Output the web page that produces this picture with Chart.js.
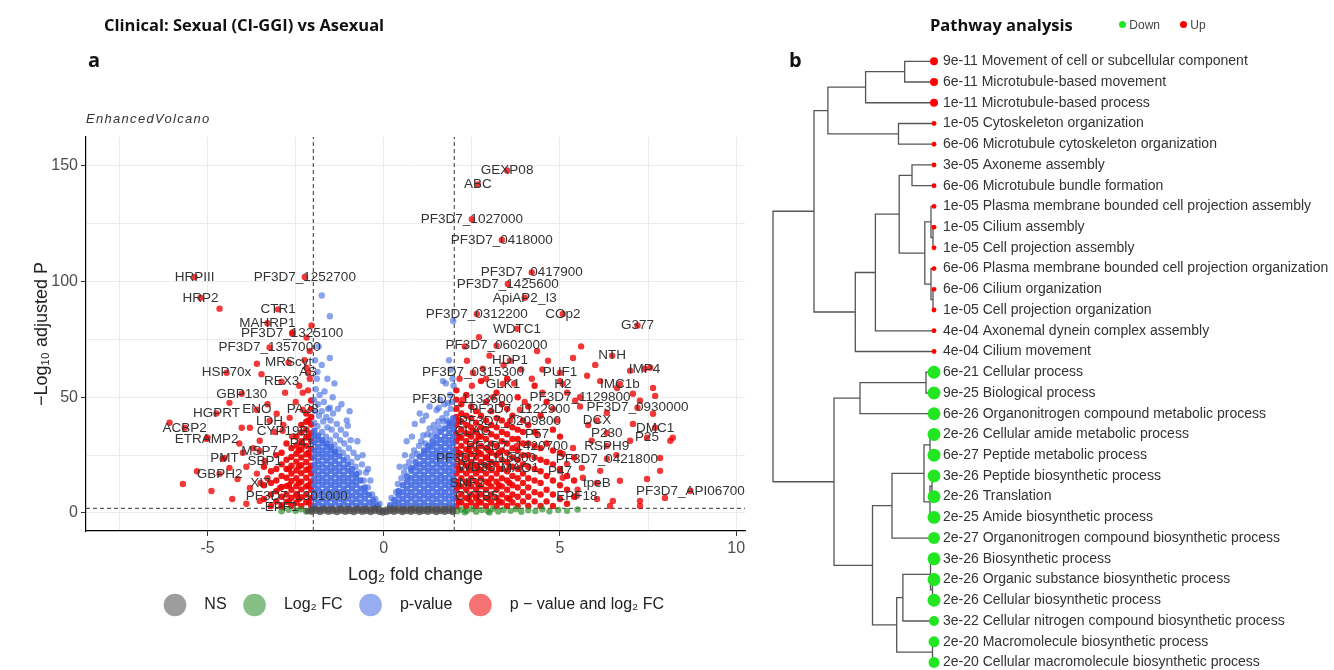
<!DOCTYPE html>
<html>
<head>
<meta charset="utf-8">
<script src="https://cdn.jsdelivr.net/npm/chart.js@4.4.1/dist/chart.umd.min.js"></script>
<style>
  html, body { margin: 0; padding: 0; background: #fff; }
  body { width: 1334px; height: 670px; position: relative; overflow: hidden; }
  canvas { position: absolute; top: 0; }
  #volcano { left: 0; }
  #pathways { left: 760px; }
  .h { position: absolute; line-height: 1; transform: translateY(-50%); white-space: nowrap;
       font-family: "Open Sans", sans-serif; font-weight: 700; color: #111; }
  #t1 { left: 104px; top: 25px; font-size: 16.5px; }
  #pa { left: 88px; top: 60px; font-size: 20px; }
  #pb { left: 789px; top: 60px; font-size: 20px; }
  #t2 { left: 930px; top: 25px; font-size: 16.5px; }
  #sub { left: 86px; top: 118px; font-family: "Liberation Sans", Arial, sans-serif; font-style: italic;
         font-weight: 400; font-size: 13px; letter-spacing: 1.3px; color: #333; }
  #key { left: 1119px; top: 25px; font-family: "Liberation Sans", Arial, sans-serif; font-weight: 400;
         font-size: 12px; color: #444; }
  #key i { display: inline-block; width: 7px; height: 7px; border-radius: 50%; vertical-align: middle; margin-top: -2px; }
</style>
</head>
<body>
<canvas id="volcano" width="800" height="670"></canvas>
<canvas id="pathways" width="574" height="670"></canvas>
<div class="h" id="t1">Clinical: Sexual (CI-GGI) vs Asexual</div>
<div class="h" id="pa">a</div>
<div class="h" id="sub">EnhancedVolcano</div>
<div class="h" id="pb">b</div>
<div class="h" id="t2">Pathway analysis</div>
<div class="h" id="key"><i style="background:#22e622"></i> Down&nbsp;&nbsp;&nbsp;&nbsp;&nbsp; <i style="background:#ff0000"></i> Up</div>
<script>
// ---------- panel a: volcano ----------
const fcCutoff = 2;
const pCutoff = 2;          // -log10 adjusted P
const xRange = [-8.45, 10.25];
const yRange = [-7.8, 162.5];

// not significant, [log2FC, [-log10 P ...]]
const notSig = [
  [-2.16, [0.8]], [-2.05, [0.5, 1.6]], [-1.93, [0.9, 1.8]], [-1.81, [0.4, 1.5]], [-1.69, [1.0, 1.9]],
  [-1.57, [0.5, 1.6]], [-1.45, [0.8, 1.8]], [-1.33, [0.4, 1.5]], [-1.21, [0.9, 1.9]], [-1.09, [0.5, 1.6]],
  [-0.97, [0.8, 1.8]], [-0.85, [0.4, 1.5]], [-0.73, [0.9, 1.9]], [-0.61, [0.5, 1.6]], [-0.49, [0.8, 1.8]],
  [-0.37, [0.4, 1.5]], [-0.25, [0.9, 1.9]], [-0.13, [0.5, 1.6]], [-0.03, [0.2, 0.9]], [0.07, [0.4, 1.4]],
  [0.17, [0.8, 1.8]], [0.29, [0.5, 1.6]], [0.41, [0.9, 1.9]], [0.53, [0.4, 1.5]], [0.65, [0.8, 1.8]],
  [0.77, [0.5, 1.6]], [0.89, [0.9, 1.9]], [1.01, [0.4, 1.5]], [1.13, [0.8, 1.8]], [1.25, [0.5, 1.6]],
  [1.37, [0.9, 1.9]], [1.49, [0.4, 1.5]], [1.61, [0.8, 1.8]], [1.73, [0.5, 1.6]], [1.85, [0.9, 1.9]],
  [1.96, [0.4, 1.5]]
];

// large fold change only
const log2fcOnly = [
  [2.08, 0.7], [2.2, 1.5], [2.35, 0.9], [2.5, 1.7], [2.62, 0.5], [2.78, 1.3], [2.95, 0.8], [3.1, 1.8],
  [3.25, 0.6], [3.4, 1.4], [3.6, 0.9], [3.75, 1.7], [3.9, 0.5], [4.1, 1.2], [4.3, 0.8], [4.5, 1.6],
  [4.7, 0.7], [4.95, 1.3], [5.2, 0.9], [5.5, 1.5], [2.3, 0.3], [3.0, 0.2],
  [-2.08, 1.2], [-2.2, 0.6], [-2.35, 1.6], [-2.5, 0.9], [-2.7, 1.4], [-2.9, 0.7]
];

// significant p only: dense cores of the two clouds
const pValueLeft = [
  [-1.97, [3, 6.2, 9, 12.1, 15, 18.2, 21, 24.1, 27, 30.2, 33, 35.5]],
  [-1.86, [4.5, 7.6, 10.5, 13.6, 16.5, 19.6, 22.5, 25.6, 28.5, 31.6, 33.5]],
  [-1.74, [3, 6.1, 9, 12.2, 15, 18.1, 21, 24.2, 27, 30.1, 31.5]],
  [-1.62, [4.5, 7.6, 10.5, 13.5, 16.6, 19.5, 22.6, 25.5, 28.4, 30]],
  [-1.50, [3, 6.2, 9, 12.1, 15, 18.2, 21, 24.1, 27, 28.6]],
  [-1.38, [4.5, 7.5, 10.6, 13.5, 16.6, 19.5, 22.5, 25.4, 26.6]],
  [-1.26, [3, 6.1, 9, 12.2, 15, 18.1, 21, 24.5]],
  [-1.14, [4.5, 7.6, 10.5, 13.6, 16.5, 19.6, 22.8]],
  [-1.02, [3, 6.2, 9, 12.1, 15, 18.2, 21]],
  [-0.90, [4.5, 7.5, 10.6, 13.5, 16.5, 19]],
  [-0.78, [3, 6.1, 9, 12.2, 15, 16.8]],
  [-0.66, [4.5, 7.6, 10.5, 14]],
  [-0.54, [3, 6.2, 9, 11]],
  [-0.42, [4.5, 7.8]],
  [-0.30, [3, 5.5]],
  [-0.18, [3.4]]
];
const pValueRight = [
  [0.18, [3.3]],
  [0.30, [3, 5.5]],
  [0.42, [4.5, 7.5, 9.5]],
  [0.54, [3, 6.1, 9, 12]],
  [0.66, [4.5, 7.6, 10.5, 13.5, 15.8]],
  [0.78, [3, 6.2, 9, 12.1, 15, 18.2, 19.5]],
  [0.90, [4.5, 7.5, 10.6, 13.5, 16.5, 19.6, 22]],
  [1.02, [3, 6.1, 9, 12.2, 15, 18.1, 21, 24.3]],
  [1.14, [4.5, 7.6, 10.5, 13.6, 16.5, 19.6, 22.5, 25.6, 27]],
  [1.26, [3, 6.2, 9, 12.1, 15, 18.2, 21, 24.1, 27, 29]],
  [1.38, [4.5, 7.5, 10.6, 13.5, 16.6, 19.5, 22.6, 25.5, 28.6, 31]],
  [1.50, [3, 6.1, 9, 12.2, 15, 18.1, 21, 24.2, 27, 30.1, 33]],
  [1.62, [4.5, 7.6, 10.5, 13.6, 16.5, 19.6, 22.5, 25.6, 28.5, 31.6, 35]],
  [1.74, [3, 6.2, 9, 12.1, 15, 18.2, 21, 24.1, 27, 30.2, 33, 36.5]],
  [1.86, [4.5, 7.5, 10.6, 13.5, 16.6, 19.5, 22.6, 25.5, 28.6, 31.5, 34.6, 37.5, 39]],
  [1.97, [3, 6.1, 9, 12.2, 15, 18.1, 21, 24.2, 27, 30.1, 33, 36.2, 39, 41]]
];
// significant p only: looser points above the cores and outliers
const pValueScatter = [
  [-1.97, 39], [-1.95, 44], [-1.98, 49], [-1.93, 53.5], [-1.88, 37.5], [-1.84, 42], [-1.87, 47], [-1.82, 51],
  [-1.75, 35], [-1.72, 39.5], [-1.76, 44], [-1.7, 48], [-1.64, 33], [-1.6, 37], [-1.63, 41.5], [-1.58, 45],
  [-1.52, 31.5], [-1.48, 36], [-1.51, 40], [-1.44, 43], [-1.4, 29.5], [-1.36, 33.5], [-1.33, 38.5],
  [-1.28, 27.5], [-1.24, 31.5], [-1.22, 36], [-1.16, 26], [-1.12, 30], [-1.08, 34], [-1.04, 24],
  [-0.99, 28], [-0.94, 31.5], [-0.92, 22], [-0.86, 26], [-0.8, 20], [-0.75, 24], [-0.7, 17.5],
  [-0.62, 21], [-0.57, 14], [-0.5, 17.5], [-0.45, 11], [-0.38, 14], [-0.33, 8], [-0.24, 6], [-0.12, 4],
  [-1.76, 94], [-1.53, 85], [-1.76, 64], [-1.53, 67], [-1.6, 58], [-1.4, 56], [-1.9, 58], [-1.2, 47],
  [-1.05, 40], [-0.75, 31], [-1.85, 72], [-1.95, 66], [-1.68, 52.5], [-0.6, 25], [-0.45, 19], [-1.3, 45],
  [-1.02, 37.7], [-0.97, 44], [-1.53, 45.5], [-1.88, 61], [-1.45, 50],
  [0.22, 6.5], [0.35, 9], [0.4, 12.5], [0.5, 15], [0.58, 17.5], [0.62, 20], [0.72, 22], [0.8, 24.5],
  [0.86, 27], [0.95, 25.5], [1.0, 29], [1.06, 31], [1.12, 33.5], [1.18, 30], [1.24, 34], [1.3, 36.5],
  [1.35, 33.5], [1.42, 38], [1.46, 35.5], [1.55, 39.5], [1.58, 37], [1.66, 41], [1.7, 39.5], [1.78, 43],
  [1.8, 40], [1.9, 45], [1.94, 48], [1.88, 51], [1.98, 55], [1.83, 47.5], [1.72, 47], [1.56, 45.5],
  [1.68, 57], [1.76, 56], [1.02, 43], [0.88, 38.5], [1.5, 44.5], [0.65, 31], [1.97, 83], [1.9, 62],
  [1.3, 46], [1.1, 40], [0.6, 25], [1.85, 66], [1.95, 58], [0.45, 20], [1.2, 42], [1.6, 49], [0.8, 33]
];

// significant p and fold change
const bothLeft = [
  [-2.06, [3.2, 6.5, 10, 13.6, 17, 20.4, 24, 27.7, 31, 34.5, 38.2, 41.5, 45, 48.6]],
  [-2.13, [5, 12, 19, 26, 33, 40]],
  [-2.20, [4.6, 8, 11.5, 15.2, 18.6, 22, 25.4, 29, 32.6, 36, 39.4, 43]],
  [-2.34, [3, 6.8, 10.2, 13.5, 17.2, 20.6, 24, 27.4, 31, 34.8, 38]],
  [-2.41, [6, 13, 20, 27]],
  [-2.48, [4.4, 8.2, 11.6, 15, 18.4, 22.2, 25.6, 29.2, 33]],
  [-2.62, [3.2, 6.6, 10, 13.8, 17, 20.4, 24.2, 28]],
  [-2.69, [5, 12, 19]],
  [-2.76, [4.8, 8, 11.6, 15.2, 19, 23, 30]],
  [-2.90, [3.4, 7, 11.2, 16, 21, 26]],
  [-3.05, [5, 9.4, 14, 19, 25]],
  [-3.20, [3, 8, 13, 18]],
  [-3.40, [6, 12, 20]]
];
const bothRight = [
  [2.06, [3, 6.5, 10, 13.5, 17, 20.5, 24, 27.5, 31, 34.5, 38, 41.5, 45, 49, 53]],
  [2.13, [5, 12, 19, 26, 33, 40]],
  [2.20, [4.5, 8, 11.5, 15, 18.5, 22, 25.5, 29, 32.5, 36, 39.5, 43, 47]],
  [2.34, [3, 6.5, 10, 13.5, 17, 20.5, 24, 27.5, 31, 34.5, 38, 42, 51]],
  [2.41, [6, 13, 20, 27, 34]],
  [2.48, [4.5, 8, 11.5, 15, 18.5, 22, 25.5, 29, 33, 37, 41, 46]],
  [2.62, [3, 6.5, 10, 13.5, 17, 20.5, 24, 27.5, 31, 35, 39, 44]],
  [2.69, [5, 12, 19, 26, 33]],
  [2.76, [4.5, 8, 11.5, 15, 18.5, 22, 25.5, 29, 33, 37, 42, 57]],
  [2.90, [3, 6.5, 10, 13.5, 17, 20.5, 24, 28, 32, 36, 40, 48]],
  [2.97, [6, 13, 20, 27]],
  [3.05, [4.5, 8, 11.5, 15, 18.5, 22, 26, 30, 34, 38, 44]],
  [3.20, [3, 6.5, 10, 13.5, 17, 21, 25, 29, 33, 37, 41, 52]],
  [3.27, [5, 12, 19, 26]],
  [3.35, [4.5, 8, 11.5, 15, 19, 23, 27, 31, 35, 40, 47]],
  [3.50, [3, 6.5, 10, 14, 18, 22, 26, 30, 34, 38, 45, 58]],
  [3.57, [6, 13, 20]],
  [3.65, [4.5, 8, 12, 16, 20, 24, 28, 32, 37, 42]],
  [3.80, [3, 7, 11, 15, 19, 23, 27, 32, 36, 50]],
  [3.95, [5, 9, 13, 17, 21, 25, 30, 35, 40]],
  [4.10, [3, 7, 11, 15, 20, 25, 30, 38, 46]],
  [4.28, [5, 9, 14, 19, 24, 29, 35, 55]],
  [4.45, [3, 8, 13, 18, 23, 28, 42]],
  [4.62, [5, 10, 16, 22, 30, 48]],
  [4.80, [3, 8, 14, 21, 27, 36]],
  [5.00, [6, 12, 19, 26, 33]],
  [5.20, [4, 10, 16]],
  [5.40, [7, 14, 24]]
];
const bothScatter = [
  [-3.6, 64.5], [-3.47, 60], [-2.19, 62.8], [-4.38, 47.6], [-4.03, 36.8], [-3.8, 36.8], [-6.08, 39],
  [-5.0, 32.5], [-2.67, 41.1], [-3.04, 42.9], [-4.89, 9.5], [-4.15, 14.7], [-4.38, 19.5], [-3.52, 31.2],
  [-4.57, 23.4], [-3.8, 10.8], [-3.52, 5.2], [-2.95, 10.8], [-4.66, 88.3], [-2.05, 81], [-2.59, 78],
  [-2.19, 75.8], [-5.7, 12.5], [-3.7, 28], [-4.0, 26], [-3.3, 47], [-2.8, 52], [-2.4, 55], [-2.25, 66],
  [-2.1, 70], [-2.5, 48], [-3.9, 4], [-4.3, 6], [-5.3, 18], [-3.1, 35], [-2.1, 58], [-2.3, 52],
  [-2.6, 33], [-2.85, 38], [-3.3, 15], [-3.6, 17], [-3.9, 20], [-4.1, 30], [-2.15, 53],
  [2.36, 65.8], [2.81, 62.3], [4.35, 70], [4.66, 65.8], [5.37, 67], [5.77, 59.3], [3.0, 68], [3.9, 62],
  [4.2, 58], [2.5, 55], [3.1, 50], [4.5, 52], [2.3, 72], [2.7, 76], [3.4, 64], [4.0, 48], [4.8, 45],
  [2.15, 58], [5.2, 52], [5.0, 57], [5.43, 48.5], [6.14, 57], [6.99, 61.5], [7.56, 62.8], [7.27, 48.5],
  [7.7, 50.6], [8.13, 31.2], [6.99, 31.2], [6.14, 18.2], [6.7, 13.9], [7.84, 18.2], [7.98, 6.5],
  [7.27, 5.2], [6.42, 3], [5.57, 46], [6.62, 54], [7.64, 54], [7.07, 51.5], [8.2, 32.5], [7.84, 23.8],
  [7.47, 14.7], [6.05, 6], [6.5, 5.2], [7.27, 3], [5.65, 15.2], [5.2, 21.2], [6.33, 43.3], [7.07, 38.5],
  [7.64, 42.9], [5.9, 31.2], [5.37, 28.1], [5.08, 25.5], [5.62, 19.5], [5.08, 15.2], [5.8, 38],
  [6.6, 25], [5.5, 10], [4.9, 40], [6.0, 64], [5.6, 72], [4.5, 62], [3.7, 56], [2.9, 58]
];

// labelled genes: [name, log2FC, -log10 P]
const geneLabels = [
  ['HRPIII', -5.37, 102], ['PF3D7_1252700', -2.24, 102], ['HRP2', -5.2, 93], ['CTR1', -3.0, 88],
  ['MAHRP1', -3.3, 82], ['PF3D7_1325100', -2.6, 77.5], ['PF3D7_1357000', -3.24, 71.5], ['MRScyt', -2.7, 65],
  ['HSP70x', -4.46, 60.6], ['AS', -2.15, 60.6], ['REX3', -2.9, 56.7], ['GBP130', -4.03, 51.5],
  ['ENO', -3.6, 44.6], ['PA28', -2.3, 44.6], ['HGPRT', -4.75, 43], ['LDH', -3.24, 39.8],
  ['ACBP2', -5.65, 36.8], ['CYP19B', -2.87, 35.5], ['ETRAMP2', -5.03, 32], ['P41', -2.33, 29.9],
  ['MSP7', -3.52, 26.8], ['PMT', -4.52, 23.8], ['SBP1', -3.38, 22.5], ['GBPH2', -4.66, 16.9],
  ['XI7', -3.5, 13], ['PF3D7_1301000', -2.47, 7.4], ['EPF1', -2.9, 2.5],
  ['GEXP08', 3.5, 148], ['ABC', 2.67, 142], ['PF3D7_1027000', 2.5, 127], ['PF3D7_0418000', 3.35, 118],
  ['PF3D7_0417900', 4.2, 104], ['PF3D7_1425600', 3.52, 99], ['ApiAP2_I3', 4.0, 93], ['COp2', 5.08, 86],
  ['PF3D7_0312200', 2.64, 86], ['WDTC1', 3.78, 79.6], ['G377', 7.2, 81], ['PF3D7_0602000', 3.2, 72.3],
  ['NTH', 6.48, 68], ['HDP1', 3.58, 65.8], ['IMP4', 7.4, 62.3], ['PF3D7_0315300', 2.53, 60.6],
  ['PUF1', 5.0, 60.6], ['GLK1', 3.38, 55.8], ['H2', 5.08, 55.8], ['IMC1b', 6.7, 55.8],
  ['PF3D7_1133600', 2.24, 49], ['PF3D7_1129800', 5.57, 50], ['PF3D7_1122900', 3.86, 44.6],
  ['PF3D7_0930000', 7.2, 45.5], ['PF3D7_0209800', 3.58, 39.8], ['DCX', 6.05, 40], ['DMC1', 7.7, 36.8],
  ['CLAG', 2.53, 35.5], ['P57', 4.35, 34.2], ['P230', 6.33, 34.6], ['P25', 7.47, 32.5],
  ['PF3D7_1420700', 3.78, 29], ['RSPH9', 6.33, 29], ['PF3D7_1116800', 2.9, 23.8],
  ['PF3D7_0421800', 6.33, 23.4], ['WD88', 2.64, 19.9], ['MAO1', 3.86, 19.5], ['P47', 5.0, 18.2],
  ['SNF2', 2.36, 13], ['tpeB', 6.05, 13], ['CYTB5', 2.64, 7.4], ['EPF18', 5.48, 7.4],
  ['PF3D7_API06700', 8.7, 9.5]
];

// ---------- panel b: pathway dendrogram ----------
const leafNames = [
  '9e-11 Movement of cell or subcellular component', '6e-11 Microtubule-based movement',
  '1e-11 Microtubule-based process', '1e-05 Cytoskeleton organization',
  '6e-06 Microtubule cytoskeleton organization', '3e-05 Axoneme assembly',
  '6e-06 Microtubule bundle formation', '1e-05 Plasma membrane bounded cell projection assembly',
  '1e-05 Cilium assembly', '1e-05 Cell projection assembly',
  '6e-06 Plasma membrane bounded cell projection organization', '6e-06 Cilium organization',
  '1e-05 Cell projection organization', '4e-04 Axonemal dynein complex assembly',
  '4e-04 Cilium movement', '6e-21 Cellular process', '9e-25 Biological process',
  '6e-26 Organonitrogen compound metabolic process', '2e-26 Cellular amide metabolic process',
  '6e-27 Peptide metabolic process', '3e-26 Peptide biosynthetic process', '2e-26 Translation',
  '2e-25 Amide biosynthetic process', '2e-27 Organonitrogen compound biosynthetic process',
  '3e-26 Biosynthetic process', '2e-26 Organic substance biosynthetic process',
  '2e-26 Cellular biosynthetic process', '3e-22 Cellular nitrogen compound biosynthetic process',
  '2e-20 Macromolecule biosynthetic process', '2e-20 Cellular macromolecule biosynthetic process'
];
const leafDirection = ['up', 'up', 'up', 'up', 'up', 'up', 'up', 'up', 'up', 'up', 'up', 'up', 'up', 'up', 'up',
  'down', 'down', 'down', 'down', 'down', 'down', 'down', 'down', 'down', 'down', 'down', 'down', 'down', 'down', 'down'];
const leafGenes = [16, 16, 16, 6, 6, 6, 6, 6, 6, 6, 6, 6, 6, 6, 6,
  42, 42, 42, 42, 42, 42, 42, 42, 36, 42, 42, 42, 25, 30, 30];
// hclust-style merges: [a, b, height]; negative = leaf number, positive = earlier merge
const merges = [
  [-1, -2, 29.3], [1, -3, 68.4], [-4, -5, 35.5], [2, 3, 106.1], [-6, -7, 22],
  [-9, -10, 1], [-8, 6, 3], [-12, -13, 1], [-11, 8, 3], [7, 9, 9.2],
  [5, 10, 34.8], [11, -14, 58.6], [12, -15, 78.7], [4, 13, 120],
  [-16, -17, 8], [15, -18, 74], [-19, -20, 4], [-21, -22, 2], [18, -23, 4],
  [17, 19, 10], [20, -24, 42], [-26, -27, 1.5], [-25, 22, 3.5], [23, -28, 31.1],
  [-29, -30, 1.5], [24, 25, 37.3], [21, 26, 61.5], [16, 27, 100], [14, 28, 161]
];

// ---------- helpers ----------
const cols = list => list.flatMap(([x, ys]) => ys.map(y => ({x, y})));
const pts = list => list.map(([x, y]) => ({x, y}));
const rgba = (rgb, a) => `rgba(${rgb},${a})`;
// overlapping points in the crowded cores read darker than isolated ones
const shade = (rgb, core, loose, nCore, nLoose) =>
  Array(nCore).fill(rgba(rgb, core)).concat(Array(nLoose).fill(rgba(rgb, loose)));

Chart.defaults.font.family = '"Liberation Sans", Arial, sans-serif';
Chart.defaults.animation = false;
Chart.defaults.events = [];

const geneLabelPlugin = {
  id: 'geneLabels',
  afterDatasetsDraw(chart) {
    const {ctx, scales: {x, y}} = chart;
    ctx.save();
    ctx.font = '13.5px "Liberation Sans", Arial, sans-serif';
    ctx.fillStyle = '#333';
    ctx.textAlign = 'center';
    ctx.textBaseline = 'middle';
    geneLabels.forEach(([name, fc, lp]) => ctx.fillText(name, x.getPixelForValue(fc), y.getPixelForValue(lp)));
    ctx.restore();
  }
};

const groupRgb = ['77,77,77', '34,139,34', '65,105,225', '238,0,0'];
const dash = {showLine: true, pointRadius: 0, borderColor: '#333', borderWidth: 1, borderDash: [4, 3], order: 10};
const dot = {pointRadius: 3.2, borderWidth: 0, pointStyle: 'circle'};
const defaultLabels = Chart.defaults.plugins.legend.labels.generateLabels;

const blueCore = cols(pValueLeft).concat(cols(pValueRight));
const blueLoose = pts(pValueScatter);
const redCore = cols(bothLeft).concat(cols(bothRight));
const redLoose = pts(bothScatter).concat(geneLabels.map(([, x, y]) => ({x, y})));

new Chart(document.getElementById('volcano'), {
  type: 'scatter',
  data: {
    datasets: [
      {...dot, label: 'NS', data: cols(notSig), backgroundColor: rgba(groupRgb[0], 0.8)},
      {...dot, label: 'Log₂ FC', data: pts(log2fcOnly), backgroundColor: rgba(groupRgb[1], 0.65)},
      {...dot, label: 'p-value', data: blueCore.concat(blueLoose),
        backgroundColor: shade(groupRgb[2], 0.88, 0.62, blueCore.length, blueLoose.length)},
      {...dot, label: 'p − value and log₂ FC', data: redCore.concat(redLoose),
        backgroundColor: shade(groupRgb[3], 0.9, 0.78, redCore.length, redLoose.length)},
      {...dash, label: 'fcLow', data: [{x: -fcCutoff, y: yRange[0]}, {x: -fcCutoff, y: yRange[1]}]},
      {...dash, label: 'fcHigh', data: [{x: fcCutoff, y: yRange[0]}, {x: fcCutoff, y: yRange[1]}]},
      {...dash, label: 'pCut', data: [{x: xRange[0], y: pCutoff}, {x: xRange[1], y: pCutoff}]}
    ]
  },
  options: {
    responsive: false,
    layout: {padding: {top: 137, left: 27, right: 55, bottom: 47}},
    plugins: {
      tooltip: {enabled: false},
      legend: {
        position: 'bottom',
        fullSize: false,
        labels: {
          usePointStyle: true, boxWidth: 16, boxHeight: 16, padding: 20,
          font: {size: 16}, color: '#222',
          generateLabels: chart => defaultLabels(chart).map(l => ({...l, text: '   ' + l.text,
            fillStyle: l.datasetIndex < 4 ? rgba(groupRgb[l.datasetIndex], 0.55) : l.fillStyle,
            strokeStyle: 'rgba(0,0,0,0)', lineWidth: 0})),
          filter: item => item.datasetIndex < 4
        }
      }
    },
    scales: {
      x: {
        type: 'linear', min: xRange[0], max: xRange[1],
        ticks: {stepSize: 2.5, includeBounds: false, autoSkip: false, maxRotation: 0, padding: 3,
          color: '#4d4d4d', font: {size: 16}, callback: v => (v % 5 === 0 ? String(v) : '')},
        grid: {color: '#ebebeb', lineWidth: 1, tickLength: 5,
          tickColor: c => (c.tick && c.tick.value % 5 === 0 ? '#333' : 'rgba(0,0,0,0)')},
        border: {color: '#000', width: 1.2},
        title: {display: true, text: 'Log₂ fold change', font: {size: 18}, color: '#222', padding: {top: 0, bottom: -9}},
        afterFit: s => { s.height = 46; }
      },
      y: {
        type: 'linear', min: yRange[0], max: yRange[1],
        ticks: {stepSize: 25, includeBounds: false, autoSkip: false, padding: 3,
          color: '#4d4d4d', font: {size: 16}, callback: v => (v % 50 === 0 ? String(v) : '')},
        grid: {color: '#ebebeb', lineWidth: 1, tickLength: 5,
          tickColor: c => (c.tick && c.tick.value % 50 === 0 ? '#333' : 'rgba(0,0,0,0)')},
        border: {color: '#000', width: 1.2},
        title: {display: true, text: '−Log₁₀ adjusted P', font: {size: 18}, color: '#222', padding: {top: 4, bottom: 0}},
        afterFit: s => { s.width = 59; }
      }
    }
  },
  plugins: [geneLabelPlugin]
});

// ---------- dendrogram ----------
const nodeY = [], nodeH = [];
const at = id => (id < 0 ? {y: -id, h: 0} : {y: nodeY[id - 1], h: nodeH[id - 1]});
const branches = [];
merges.forEach(([a, b, h], i) => {
  const A = at(a), B = at(b);
  nodeY[i] = (A.y + B.y) / 2;
  nodeH[i] = h;
  branches.push({x: A.h, y: A.y}, {x: h, y: A.y}, {x: h, y: B.y}, {x: B.h, y: B.y}, {x: null, y: null});
});

new Chart(document.getElementById('pathways'), {
  type: 'scatter',
  data: {
    datasets: [
      {label: 'leaves', data: leafNames.map((_, i) => ({x: 0, y: i + 1})),
        pointRadius: leafGenes.map(n => Math.sqrt(n)), borderWidth: 0, clip: false,
        backgroundColor: leafDirection.map(d => (d === 'up' ? '#ff0000' : '#22e622'))},
      {label: 'tree', data: branches, showLine: true, pointRadius: 0, borderColor: '#555',
        borderWidth: 1.3, spanGaps: false, clip: false}
    ]
  },
  options: {
    responsive: false,
    layout: {padding: {left: 13, top: 53, bottom: 1}},
    plugins: {legend: {display: false}, tooltip: {enabled: false}},
    scales: {
      x: {type: 'linear', reverse: true, min: 0, max: 161, display: false},
      y: {
        type: 'linear', position: 'right', reverse: true, min: 0.6, max: 30.05,
        afterBuildTicks: s => { s.ticks = leafNames.map((_, i) => ({value: i + 1})); },
        ticks: {autoSkip: false, padding: 9, color: '#333', font: {size: 14},
          callback: v => leafNames[v - 1]},
        grid: {display: false, drawTicks: false},
        border: {display: false},
        afterFit: s => { s.width = 400; s.paddingTop = 0; s.paddingBottom = 0; }
      }
    }
  }
});
</script>
</body>
</html>
